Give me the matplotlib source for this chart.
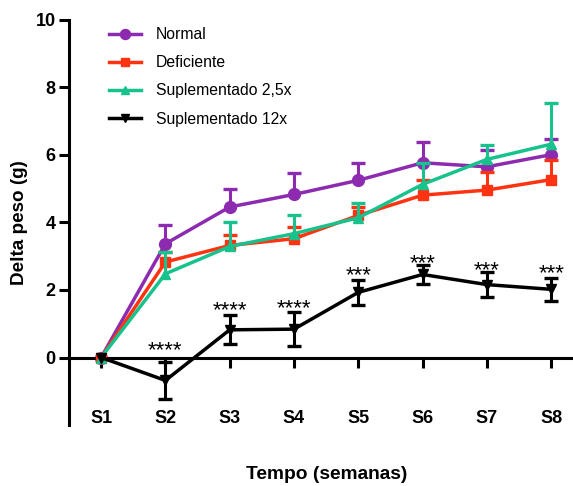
import numpy as np
import matplotlib
matplotlib.use("Agg")
import matplotlib.pyplot as plt

plt.rcParams['font.family'] = ['Liberation Sans', 'DejaVu Sans']

# Weekly weight gain (g) per diet group, mean and SEM
weeks = ["S1", "S2", "S3", "S4", "S5", "S6", "S7", "S8"]

normal_mean = [0.0, 3.37, 4.46, 4.83, 5.25, 5.77, 5.65, 6.01]
normal_sem = [0.0, 0.55, 0.52, 0.64, 0.52, 0.62, 0.51, 0.45]

deficiente_mean = [0.0, 2.83, 3.32, 3.52, 4.21, 4.81, 4.96, 5.27]
deficiente_sem = [0.0, 0.30, 0.30, 0.35, 0.25, 0.44, 0.54, 0.58]

sup25_mean = [0.0, 2.48, 3.29, 3.67, 4.14, 5.13, 5.87, 6.32]
sup25_sem = [0.0, 0.64, 0.73, 0.54, 0.45, 0.64, 0.42, 1.23]

sup12_mean = [0.0, -0.68, 0.82, 0.84, 1.93, 2.46, 2.16, 2.02]
sup12_sem = [0.0, 0.56, 0.43, 0.50, 0.37, 0.27, 0.37, 0.35]

# Significance marks for the 12x group vs. control
sig_labels = ["", "****", "****", "****", "***", "***", "***", "***"]
sig_heights = [None, 0.41, 1.59, 1.67, 2.63, 3.01, 2.78, 2.71]

names = ["Normal", "Deficiente", "Suplementado 2,5x", "Suplementado 12x"]
colors = ["#8C2BB0", "#FF3311", "#17C28C", "#000000"]
markers = ["o", "s", "^", "v"]
msizes = [8.5, 6.5, 7.5, 7.5]

fig = plt.figure(figsize=(5.73, 4.86), dpi=100)
ax = fig.add_axes([69 / 573, 61 / 486, 1 - 69 / 573, (425 - 20) / 486])

x = np.arange(len(weeks))
lw = 2.5
cap_w = 10

one_sided = [
    (normal_mean, normal_sem),
    (deficiente_mean, deficiente_sem),
    (sup25_mean, sup25_sem),
]
for i, (m, s) in enumerate(one_sided):
    m = np.asarray(m)
    s = np.asarray(s)
    c = colors[i]
    z = 2 + i
    ax.errorbar(x, m, yerr=[np.zeros_like(s), s], fmt="none", ecolor=c,
                elinewidth=2.2, capsize=0, zorder=z)
    ax.plot(x[1:], (m + s)[1:], ls="none", marker="_", markersize=cap_w,
            mew=2.4, color=c, zorder=z)
    ax.plot(x, m, color=c, lw=lw, marker=markers[i], markersize=msizes[i],
            label=names[i], zorder=z + 0.5)

m12 = np.asarray(sup12_mean)
s12 = np.asarray(sup12_sem)
ax.errorbar(x[1:], m12[1:], yerr=s12[1:], fmt="none", ecolor="black",
            elinewidth=2.2, capsize=5, capthick=2.4, zorder=6)
ax.plot(x, m12, color="black", lw=lw, marker=markers[3], markersize=msizes[3],
        label=names[3], zorder=6.5)

star_fs = 16
for xi, lab, h in zip(x, sig_labels, sig_heights):
    if lab:
        ax.annotate(lab, (xi, h), xytext=(0, -0.575 * star_fs),
                    textcoords="offset points", ha="center", va="baseline",
                    fontsize=star_fs, color="black")

ax.set_xlim(-0.5, 7.34)
ax.set_ylim(-2, 10)

for side in ("top", "right"):
    ax.spines[side].set_visible(False)
ax.spines["left"].set_linewidth(2.2)
ax.spines["bottom"].set_linewidth(2.2)
ax.spines["bottom"].set_position(("data", 0))

ax.set_yticks([0, 2, 4, 6, 8, 10])
ax.set_xticks(x)
ax.set_xticklabels(weeks)
ax.tick_params(axis="y", direction="out", length=7, width=2.2, pad=2.5,
               labelsize=13)
ax.tick_params(axis="x", direction="out", length=7, width=2.2, pad=31,
               labelsize=13)
for t in ax.get_xticklabels() + ax.get_yticklabels():
    t.set_fontweight("bold")

ax.set_ylabel("Delta peso (g)", fontsize=13.6, fontweight="bold", labelpad=5.5)
fig.text(327 / 573, 1 - 474 / 486, "Tempo (semanas)", fontsize=13.8,
         fontweight="bold", ha="center", va="center")

ax.legend(loc="upper left", bbox_to_anchor=(109 / 573, 1 - 27 / 486),
          bbox_transform=fig.transFigure, frameon=False, fontsize=11.3,
          handlelength=2.05, handletextpad=0.95, labelspacing=0.84,
          borderpad=0, borderaxespad=0, markerscale=0.85)

fig.savefig("out.png", dpi=100)
